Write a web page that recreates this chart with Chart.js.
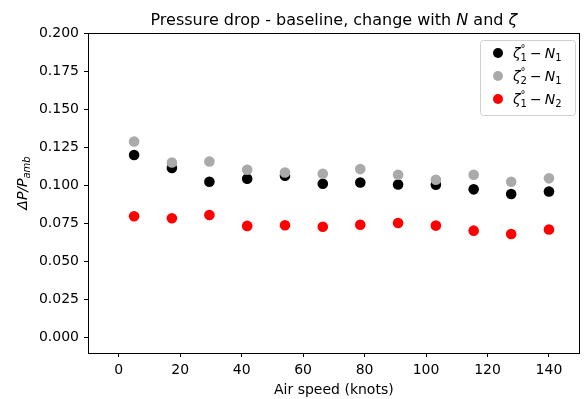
<!DOCTYPE html>
<html><head><meta charset="utf-8">
<script src="https://cdn.jsdelivr.net/npm/chart.js@4/dist/chart.umd.min.js"></script>
<style>html,body{margin:0;padding:0;background:#fff}#wrap{width:585px;height:399px}</style>
</head><body><div id="wrap"><canvas id="c" width="585" height="399"></canvas></div>
<script>
// ---- data ----
const airSpeed = [5, 17.3, 29.5, 41.8, 54.1, 66.4, 78.6, 90.9, 103.2, 115.5, 127.7, 140];
const zeta1N1 = [0.1199, 0.1114, 0.1024, 0.1044, 0.1063, 0.1011, 0.1019, 0.1006, 0.1004, 0.0974, 0.0943, 0.0960];
const zeta2N1 = [0.1288, 0.1150, 0.1157, 0.1103, 0.1085, 0.1076, 0.1107, 0.1070, 0.1037, 0.1070, 0.1024, 0.1046];
const zeta1N2 = [0.0797, 0.0784, 0.0806, 0.0734, 0.0738, 0.0729, 0.0742, 0.0753, 0.0736, 0.0703, 0.0681, 0.0710];
const xTicks = [0, 20, 40, 60, 80, 100, 120, 140];
const yTicks = [0, 0.025, 0.05, 0.075, 0.1, 0.125, 0.15, 0.175, 0.2];
const seriesLabels = ['ζ₁° − N₁', 'ζ₂° − N₁', 'ζ₁° − N₂'];
const zetaIndex = ['1', '2', '1'];
const nIndex = ['1', '1', '2'];
const seriesColors = ['#000000', '#aaaaaa', '#ff0000'];
// title pieces: [text, italic?]
const titleParts = [['Pressure drop - baseline, change with ', false], ['N', true], [' and ', false], ['ζ', true]];
const xTitle = 'Air speed (knots)';

const FONT = "'DejaVu Sans', sans-serif";

const pts = arr => airSpeed.map((x, i) => ({x: x, y: arr[i]}));

const framePlugin = {
  id: 'frame',
  afterDraw(chart) {
    const {ctx, chartArea: a} = chart;
    ctx.save();
    ctx.strokeStyle = '#000';
    ctx.lineWidth = 1;
    ctx.beginPath();
    const t = Math.round(a.top) + 0.5, r = Math.round(a.right) - 0.5;
    ctx.moveTo(Math.round(a.left), t); ctx.lineTo(r + 0.5, t);
    ctx.moveTo(r, t); ctx.lineTo(r, Math.round(a.bottom) + 1);
    ctx.stroke();

    // title, centred over the plot area
    ctx.fillStyle = '#000';
    ctx.textBaseline = 'alphabetic';
    const fontOf = it => (it ? 'italic ' : '') + '16px ' + FONT;
    let tw = 0;
    titleParts.forEach(([s, it]) => { ctx.font = fontOf(it); tw += ctx.measureText(s).width; });
    let tx = (a.left + a.right) / 2 - tw / 2;
    titleParts.forEach(([s, it]) => { ctx.font = fontOf(it); ctx.fillText(s, tx, 25); tx += ctx.measureText(s).width; });

    // y axis title: ΔP/P_amb (rotated)
    ctx.save();
    ctx.translate(22, 183);
    ctx.rotate(-Math.PI / 2);
    const main = 'ΔP/P', sub = 'amb';
    ctx.font = 'italic 14px ' + FONT;
    const w1 = ctx.measureText(main).width;
    ctx.font = 'italic 10px ' + FONT;
    const w2 = ctx.measureText(sub).width;
    const x0 = -(w1 + w2) / 2;
    ctx.font = 'italic 14px ' + FONT;
    ctx.fillText(main, x0, 5);
    ctx.font = 'italic 10px ' + FONT;
    ctx.fillText(sub, x0 + w1, 8);
    ctx.restore();
    ctx.restore();

    // legend
    ctx.save();
    const bx = 480, by = 40, bw = 95, bh = 75, rad = 3;
    ctx.fillStyle = 'rgba(255,255,255,0.8)';
    ctx.strokeStyle = '#d0d0d0';
    ctx.lineWidth = 1;
    ctx.beginPath();
    ctx.roundRect(bx + 0.5, by + 0.5, bw, bh, rad);
    ctx.fill(); ctx.stroke();
    const rows = [53, 76, 99];
    chart.data.datasets.forEach((ds, i) => {
      const y = rows[i];
      ctx.fillStyle = ds.backgroundColor;
      ctx.beginPath();
      ctx.arc(498, y, 5, 0, Math.PI * 2);
      ctx.fill();
      ctx.fillStyle = '#000';
      ctx.textBaseline = 'alphabetic';
      let x = 513;
      const base = y + 5;
      ctx.font = 'italic 14px ' + FONT;
      ctx.fillText('ζ', x, base); x += ctx.measureText('ζ').width;
      ctx.font = '10px ' + FONT;
      ctx.fillText(zetaIndex[i], x, base + 3);
      ctx.fillText('°', x, base - 6);
      x += ctx.measureText(zetaIndex[i]).width + 3;
      ctx.font = '14px ' + FONT;
      ctx.fillText('−', x, base); x += ctx.measureText('−').width + 3;
      ctx.font = 'italic 14px ' + FONT;
      ctx.fillText('N', x, base); x += ctx.measureText('N').width;
      ctx.font = '10px ' + FONT;
      ctx.fillText(nIndex[i], x, base + 3);
    });
    ctx.restore();
  }
};

new Chart(document.getElementById('c'), {
  type: 'scatter',
  data: {
    datasets: [
      {label: seriesLabels[0], data: pts(zeta1N1), backgroundColor: seriesColors[0], borderWidth: 0, pointRadius: 5.3, order: 3},
      {label: seriesLabels[1], data: pts(zeta2N1), backgroundColor: seriesColors[1], borderWidth: 0, pointRadius: 5.3, order: 2},
      {label: seriesLabels[2], data: pts(zeta1N2), backgroundColor: seriesColors[2], borderWidth: 0, pointRadius: 5.3, order: 1}
    ]
  },
  options: {
    responsive: false,
    animation: false,
    devicePixelRatio: 1,
    layout: {padding: {left: 0, right: 5, top: 33, bottom: 0}},
    plugins: {
      legend: {display: false},
      tooltip: {enabled: false},
      title: {display: false}
    },
    scales: {
      x: {
        type: 'linear', min: -10, max: 150,
        afterBuildTicks: s => { s.ticks = xTicks.map(v => ({value: v})); },
        afterFit: s => { s.height = 46; },
        ticks: {color: '#000', font: {family: FONT, size: 14}, padding: 5, maxRotation: 0, autoSkip: false},
        grid: {display: true, drawOnChartArea: false, drawTicks: true, tickLength: 4, color: '#000'},
        border: {display: true, color: '#000', width: 1},
        title: {display: true, text: xTitle, color: '#000', font: {family: FONT, size: 14}, padding: {top: 0, bottom: 0}}
      },
      y: {
        type: 'linear', min: -0.01, max: 0.2,
        afterBuildTicks: s => { s.ticks = yTicks.map(v => ({value: v})); },
        afterFit: s => { s.width = 88; },
        ticks: {color: '#000', font: {family: FONT, size: 14}, padding: 5, autoSkip: false,
          callback: v => Number(v).toFixed(3)},
        grid: {display: true, drawOnChartArea: false, drawTicks: true, tickLength: 4, color: '#000'},
        border: {display: true, color: '#000', width: 1}
      }
    }
  },
  plugins: [framePlugin]
});
</script>
</body></html>
